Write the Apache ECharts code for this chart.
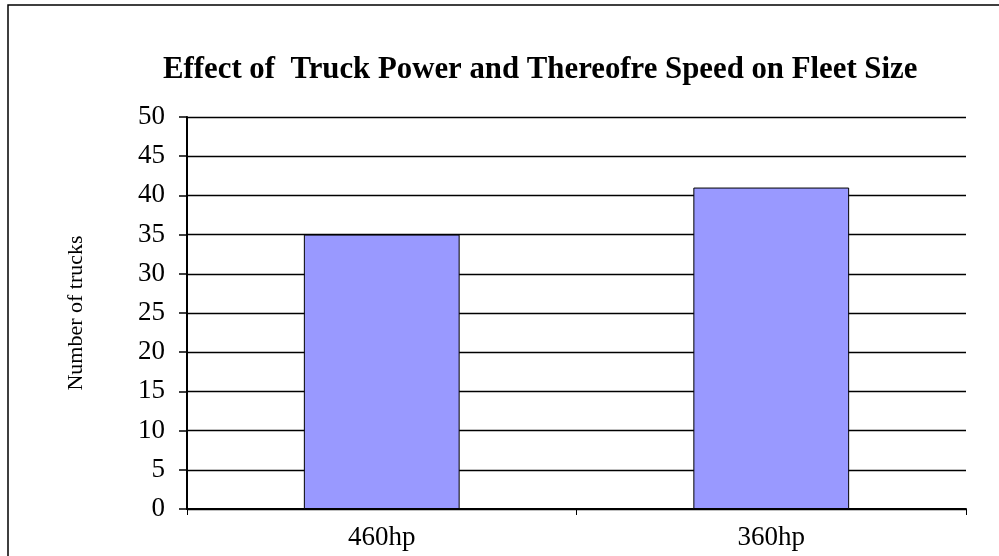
<!DOCTYPE html>
<html>
<head>
<meta charset="utf-8">
<script src="https://cdn.jsdelivr.net/npm/echarts@6/dist/echarts.min.js"></script>
<style>
  html, body { margin: 0; padding: 0; background: #fff; }
  #chart { width: 999px; height: 556px; }
</style>
</head>
<body>
<div id="chart"></div>
<script>
// data
var categories = ['460hp', '360hp'];
var truckCounts = [35, 41];
var yTicks = { min: 0, max: 50, step: 5 };

var serif = '"Liberation Serif", "Times New Roman", serif';

var chart = echarts.init(document.getElementById('chart'));
chart.setOption({
  backgroundColor: '#fff',
  animation: false,
  title: {
    text: 'Effect of  Truck Power and Thereofre Speed on Fleet Size',
    left: 158,
    top: 50,
    textStyle: { fontFamily: serif, fontWeight: 'bold', fontSize: 30.8, color: '#000' }
  },
  graphic: [{
    type: 'rect',
    shape: { x: 8, y: 5, width: 1000, height: 600 },
    style: { fill: 'none', stroke: '#000', lineWidth: 1.5 },
    silent: true
  }],
  grid: { left: 187, right: 33, top: 117, bottom: 47 },
  xAxis: {
    type: 'category',
    data: categories,
    axisLine: { lineStyle: { color: '#000', width: 2 } },
    axisTick: { show: true, length: 6, lineStyle: { color: '#000', width: 1 } },
    axisLabel: { color: '#000', fontFamily: serif, fontSize: 27, margin: 15 }
  },
  yAxis: {
    type: 'value',
    min: yTicks.min,
    max: yTicks.max,
    interval: yTicks.step,
    name: 'Number of trucks',
    nameLocation: 'middle',
    nameGap: 100,
    nameTextStyle: { color: '#000', fontFamily: serif, fontSize: 22 },
    axisLine: { show: true, lineStyle: { color: '#000', width: 2 } },
    axisTick: { show: true, length: 8, lineStyle: { color: '#000', width: 1.5 } },
    axisLabel: { color: '#000', fontFamily: serif, fontSize: 27, margin: 22 },
    splitLine: { show: true, lineStyle: { color: '#000', width: 1.3 } }
  },
  series: [{
    type: 'bar',
    data: truckCounts,
    barWidth: '40%',
    itemStyle: { color: '#9999FF', borderColor: '#000', borderWidth: 1 }
  }]
});
</script>
</body>
</html>
